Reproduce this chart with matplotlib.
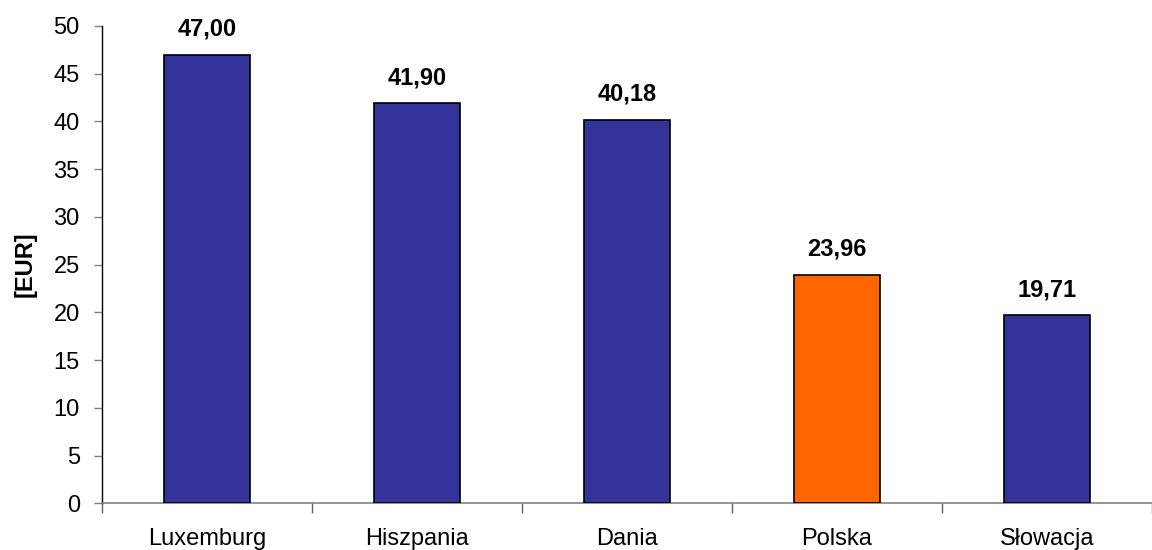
import matplotlib
matplotlib.use('Agg')
import matplotlib.pyplot as plt

countries = ['Luxemburg', 'Hiszpania', 'Dania', 'Polska', 'Słowacja']
values = [47.00, 41.90, 40.18, 23.96, 19.71]
labels = ['47,00', '41,90', '40,18', '23,96', '19,71']
colors = ['#333399', '#333399', '#333399', '#FF6600', '#333399']

plt.rcParams['font.family'] = ['Liberation Sans', 'DejaVu Sans']

fig = plt.figure(figsize=(11.52, 5.5), dpi=100)
ax = fig.add_axes([102 / 1152, 46.7 / 550, 1050 / 1152, 477.3 / 550])

x = list(range(len(countries)))
ax.bar(x, values, width=0.41, color=colors, edgecolor='black', linewidth=1.2, zorder=3)

# value labels over bars, Polish decimal comma
for xi, v, lab in zip(x, values, labels):
    ax.annotate(lab, (xi, v), xytext=(0, 10), textcoords='offset points',
                ha='center', va='bottom', fontsize=17, fontweight='bold')

ax.set_xlim(-0.5, -0.5 + 1050 / 213)
ax.set_ylim(0, 50)
ax.set_yticks(range(0, 51, 5))
ax.set_xticks(x)
ax.set_xticklabels(countries, fontsize=17)
ax.tick_params(axis='x', length=0, pad=18)
ax.tick_params(axis='y', labelsize=17, length=6, width=1, direction='out', color='#808080', pad=10)
ax.set_xticks([i + 0.5 for i in range(-1, len(countries))], minor=True)
ax.tick_params(axis='x', which='minor', length=7, width=1, color='#606060')

ax.spines['top'].set_visible(False)
ax.spines['right'].set_visible(False)
ax.spines['bottom'].set_color('#808080')
ax.spines['bottom'].set_linewidth(1.2)
ax.spines['left'].set_linewidth(1)

ax.set_ylabel('[EUR]', fontsize=17, fontweight='bold', labelpad=12)

fig.savefig('out.png', dpi=100)
